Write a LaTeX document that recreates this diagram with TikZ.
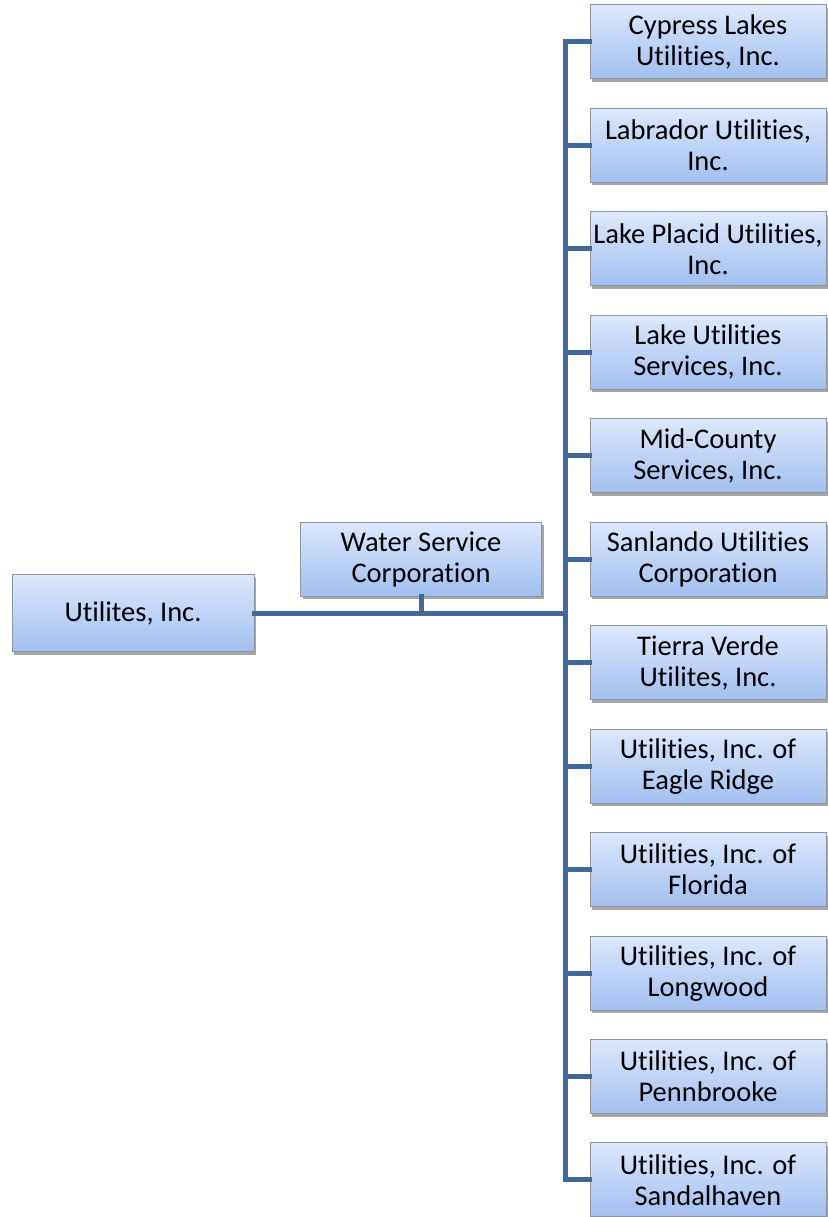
\documentclass[tikz,border=0pt]{standalone}
\usepackage{fontspec}
\setmainfont{Carlito}[Ligatures=NoCommon]
\usetikzlibrary{shadows,calc}
\definecolor{linec}{HTML}{41689A}
\definecolor{boxtop}{HTML}{DDE8FB}
\definecolor{boxbot}{HTML}{A2BFF0}
\definecolor{boxline}{HTML}{8C96A3}
\tikzset{
  orgbox/.style={draw=boxline, line width=1pt, top color=boxtop, bottom color=boxbot,
    minimum width=236pt, minimum height=74pt, inner sep=0pt, align=center,
    font=\fontsize{28.5}{31}\selectfont,
    drop shadow={shadow xshift=2pt, shadow yshift=-3pt, opacity=0.35, fill=black}},
  conn/.style={draw=linec, line width=5pt, line cap=rect}
}
\begin{document}
\begin{tikzpicture}[x=1pt,y=-1pt]
\useasboundingbox (0,0) rectangle (827,1217);
\node[orgbox, minimum width=242pt, minimum height=77pt] (u) at (133,613) {Utilites, Inc.};
\node[orgbox, minimum width=241pt] (w) at (421,559) {Water Service\\Corporation};
\foreach \t [count=\i] in {
  {Cypress Lakes\\Utilities, Inc.},
  {Labrador Utilities,\\Inc.},
  {Lake Placid Utilities,\\Inc.},
  {Lake Utilities\\Services, Inc.},
  {Mid-County\\Services, Inc.},
  {Sanlando Utilities\\Corporation},
  {Tierra Verde\\Utilites, Inc.},
  {Utilities, Inc. of\\Eagle Ridge},
  {Utilities, Inc. of\\Florida},
  {Utilities, Inc. of\\Longwood},
  {Utilities, Inc. of\\Pennbrooke},
  {Utilities, Inc. of\\Sandalhaven}}{
  \node[orgbox] (r\i) at (708,{42+103.45*(\i-1)}) {\t};
}
\coordinate (bus) at (565,613);
\draw[conn] (u.east) -- (bus);
\draw[conn] (w.south) -- (w.south |- bus);
\draw[conn] (r1.west -| bus) -- (r12.west -| bus);
\foreach \i in {1,...,12}{
  \draw[conn] (r\i.west -| bus) -- (r\i.west);
}
\end{tikzpicture}
\end{document}
